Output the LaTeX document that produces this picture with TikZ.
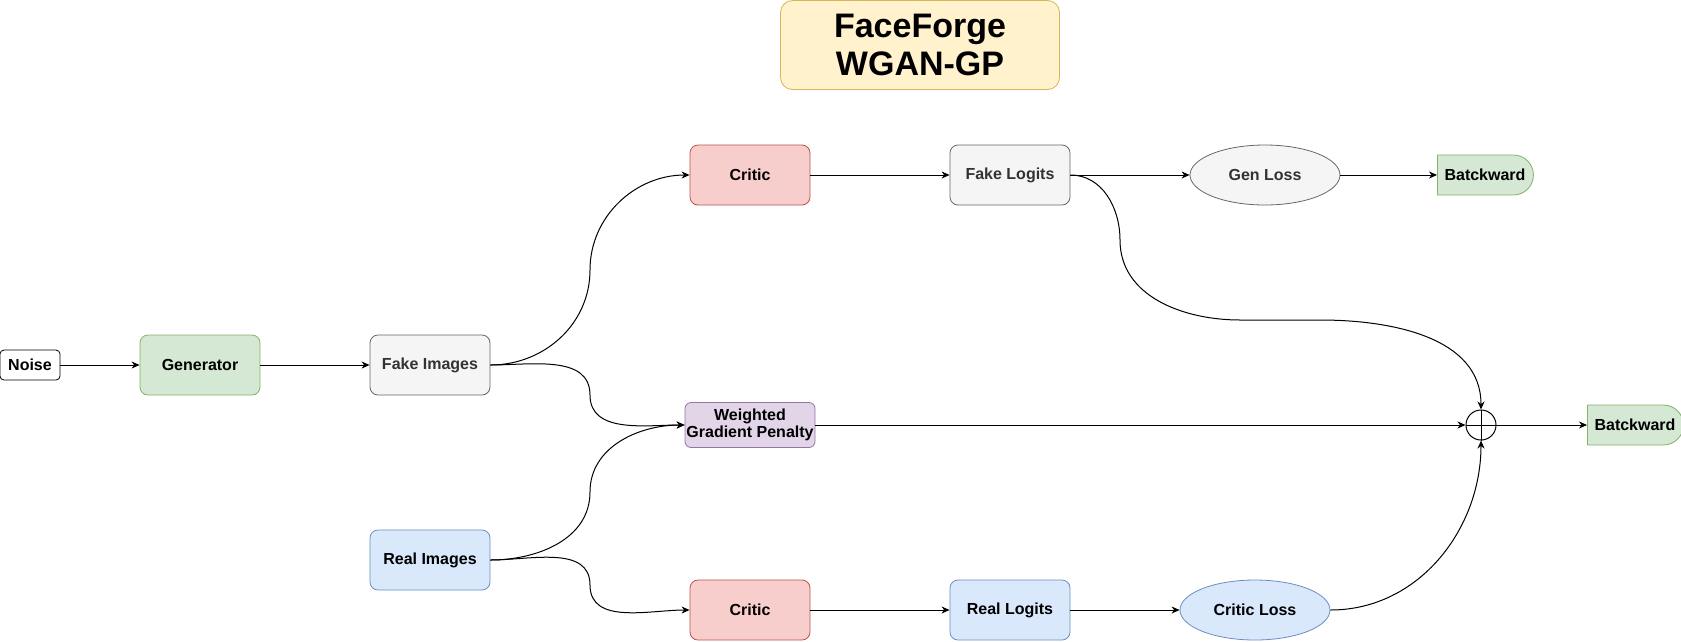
\documentclass[tikz,border=0pt]{standalone}
\usepackage{fontspec}
\setmainfont{Liberation Sans}
\usetikzlibrary{arrows.meta,shapes.geometric,shapes.misc}
\definecolor{greenfill}{HTML}{D5E8D4}\definecolor{greenline}{HTML}{82B366}
\definecolor{grayfill}{HTML}{F5F5F5}\definecolor{grayline}{HTML}{666666}
\definecolor{redfill}{HTML}{F8CECC}\definecolor{redline}{HTML}{B85450}
\definecolor{bluefill}{HTML}{DAE8FC}\definecolor{blueline}{HTML}{6C8EBF}
\definecolor{purplefill}{HTML}{E1D5E7}\definecolor{purpleline}{HTML}{9673A6}
\definecolor{yellowfill}{HTML}{FFF2CC}\definecolor{yellowline}{HTML}{D6B656}
\definecolor{graytext}{HTML}{333333}
\tikzset{
  box/.style={rectangle,rounded corners=8pt,draw,line width=0.8pt,minimum width=120pt,minimum height=60pt,
    font=\fontsize{16}{18}\selectfont\bfseries,align=center},
  oval/.style={ellipse,draw,line width=0.8pt,minimum width=150pt,minimum height=60pt,inner sep=0pt,
    font=\fontsize{16}{18}\selectfont\bfseries},
  backbox/.style={rounded rectangle,rounded rectangle left arc=none,draw=greenline,fill=greenfill,line width=0.8pt,
    minimum width=90pt,minimum height=40pt,inner xsep=-3pt,inner ysep=2pt,font=\fontsize{16}{18}\selectfont\bfseries},
  greenbox/.style={box,draw=greenline,fill=greenfill},
  graybox/.style={box,draw=grayline,fill=grayfill,text=graytext},
  redbox/.style={box,draw=redline,fill=redfill},
  bluebox/.style={box,draw=blueline,fill=bluefill},
  link/.style={-{Stealth[length=8pt,width=7pt,inset=2.5pt]},line width=1pt}
}
\begin{document}
\begin{tikzpicture}[x=1pt,y=-1pt]
  \useasboundingbox (0,0) rectangle (1681,641);
  \node[box,draw=yellowline,fill=yellowfill,minimum width=279pt,minimum height=89pt,rounded corners=12pt,
    font=\fontsize{34}{38}\selectfont\bfseries] (title) at (920,45) {FaceForge\\WGAN-GP};
  \node[box,fill=white,draw=black,minimum width=60pt,minimum height=30pt,rounded corners=4pt,inner sep=2pt] (noise) at (30,365) {Noise};
  \node[greenbox] (gen) at (200,365) {Generator};
  \node[graybox] (fake) at (430,365) {Fake Images};
  \node[bluebox] (real) at (430,560) {Real Images};
  \node[redbox] (critfake) at (750,175) {Critic};
  \node[graybox] (fakelog) at (1010,175) {Fake Logits};
  \node[oval,draw=grayline,fill=grayfill,text=graytext] (genloss) at (1265,175) {Gen Loss};
  \node[backbox] (backgen) at (1485,175) {Batckward};
  \node[box,draw=purpleline,fill=purplefill,minimum width=130pt,minimum height=45pt,inner sep=1pt,rounded corners=6pt,
    font=\fontsize{16}{17}\selectfont\bfseries] (gp) at (750,425) {Weighted\\Gradient Penalty};
  \node[redbox] (critreal) at (750,610) {Critic};
  \node[bluebox] (reallog) at (1010,610) {Real Logits};
  \node[oval,draw=blueline,fill=bluefill] (critloss) at (1255,610) {Critic Loss};
  \node[circle,draw,line width=1pt,minimum size=30pt,inner sep=0pt] (sum) at (1481,425) {};
  \draw[line width=1pt] (sum.north) -- (sum.south) (sum.west) -- (sum.east);
  \node[backbox] (backcrit) at (1635,425) {Batckward};

  \draw[link] (noise) -- (gen);
  \draw[link] (gen) -- (fake);
  \draw[link] (fake.east) to[out=0,in=-90] (590,270) to[out=90,in=180] (critfake.west);
  \draw[link] (fake.east) to[out=0,in=90] (590,395) to[out=-90,in=180] (gp.west);
  \draw[link] (real.east) to[out=0,in=-90] (590,492) to[out=90,in=180] (gp.west);
  \draw[link] (real.east) to[out=0,in=90] (590,585) to[out=-90,in=180] (critreal.west);
  \draw[link] (critfake) -- (fakelog);
  \draw[link] (fakelog) -- (genloss);
  \draw[link] (genloss) -- (backgen);
  \draw[link] (critreal) -- (reallog);
  \draw[link] (reallog) -- (critloss);
  \draw[link] (gp) -- (sum);
  \draw[link] (sum) -- (backcrit);
  \draw[link] (fakelog.east) to[out=0,in=90] (1120,240) to[out=-90,in=180] (1240,320) -- (1320,320) to[out=0,in=90] (sum.north);
  \draw[link] (critloss.east) to[out=0,in=-90] (sum.south);
\end{tikzpicture}
\end{document}
